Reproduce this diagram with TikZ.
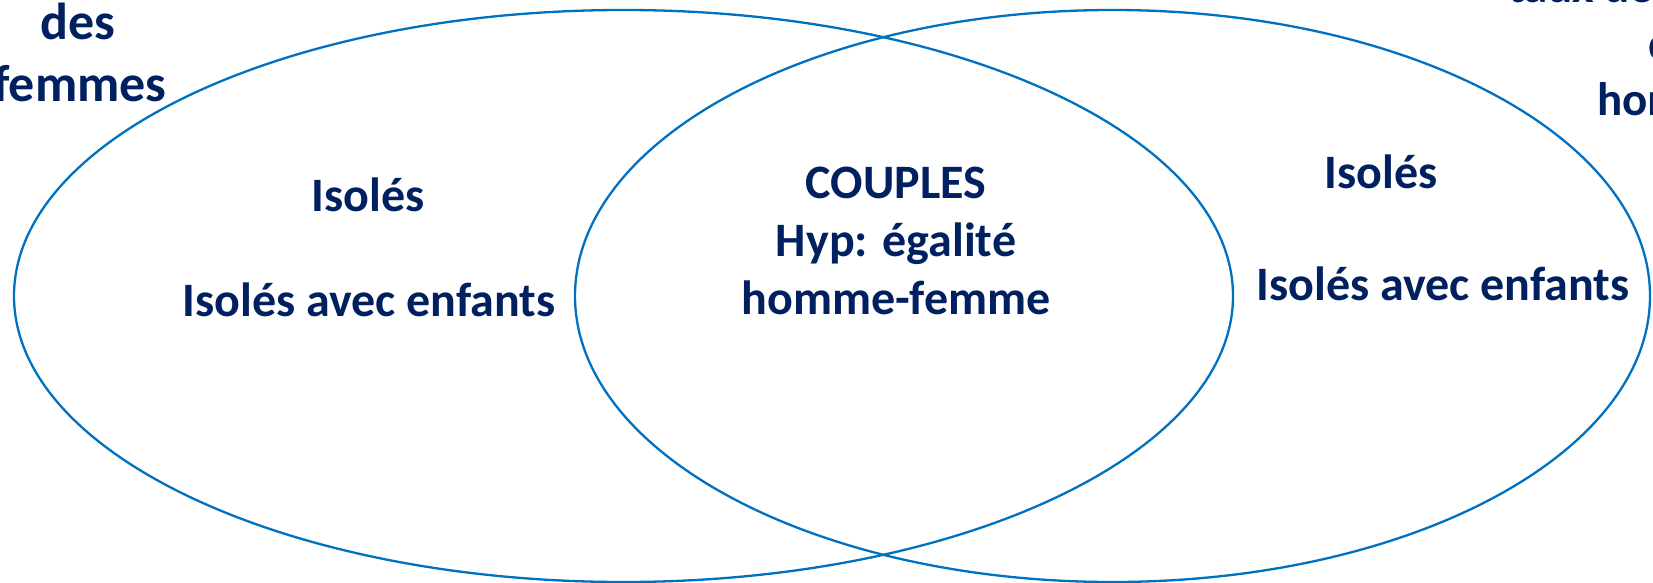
\documentclass[tikz,border=0pt]{standalone}
\usepackage{fontspec}
\setmainfont{Carlito}
\definecolor{navy}{RGB}{0,32,96}
\definecolor{lineblue}{RGB}{0,112,192}
\tikzset{
  lbl/.style={text=navy, font=\fontsize{48}{58}\selectfont\bfseries, inner sep=0pt, anchor=base},
  corner/.style={lbl, font=\fontsize{52}{62}\selectfont\bfseries},
  cornerw/.style={lbl, font=\fontsize{47}{57}\selectfont\bfseries, anchor=base west},
  venn/.style={draw=lineblue, line width=2.3pt}
}
\begin{document}
\begin{tikzpicture}[x=1pt,y=-1pt]
\useasboundingbox (0,0) rectangle (1653,583);
\clip (0,0) rectangle (1653,583);
\draw[venn] (623.5,296) ellipse [x radius=609.5, y radius=286];
\draw[venn] (1112.5,296) ellipse [x radius=537.5, y radius=286];
\node[lbl] (lisol) at (368,211) {Isolés};
\node[lbl] (lenf) at (369,316) {Isolés avec enfants};
\node[lbl] (coup) at (896,198) {COUPLES};
\node[lbl] (hyp) at (896,256) {Hyp: égalité};
\node[lbl] (hf) at (896,314) {homme-femme};
\node[lbl] (risol) at (1381,188) {Isolés};
\node[lbl] (renf) at (1443,300) {Isolés avec enfants};
\node[corner] (ldes) at (78,40) {des};
\node[corner] (lfem) at (80,102) {femmes};
\node[cornerw] (rtaux) at (1508,3) {taux de};
\node[cornerw] (rdes) at (1648,60) {des};
\node[cornerw] (rhom) at (1597,116) {hommes};
\end{tikzpicture}
\end{document}
